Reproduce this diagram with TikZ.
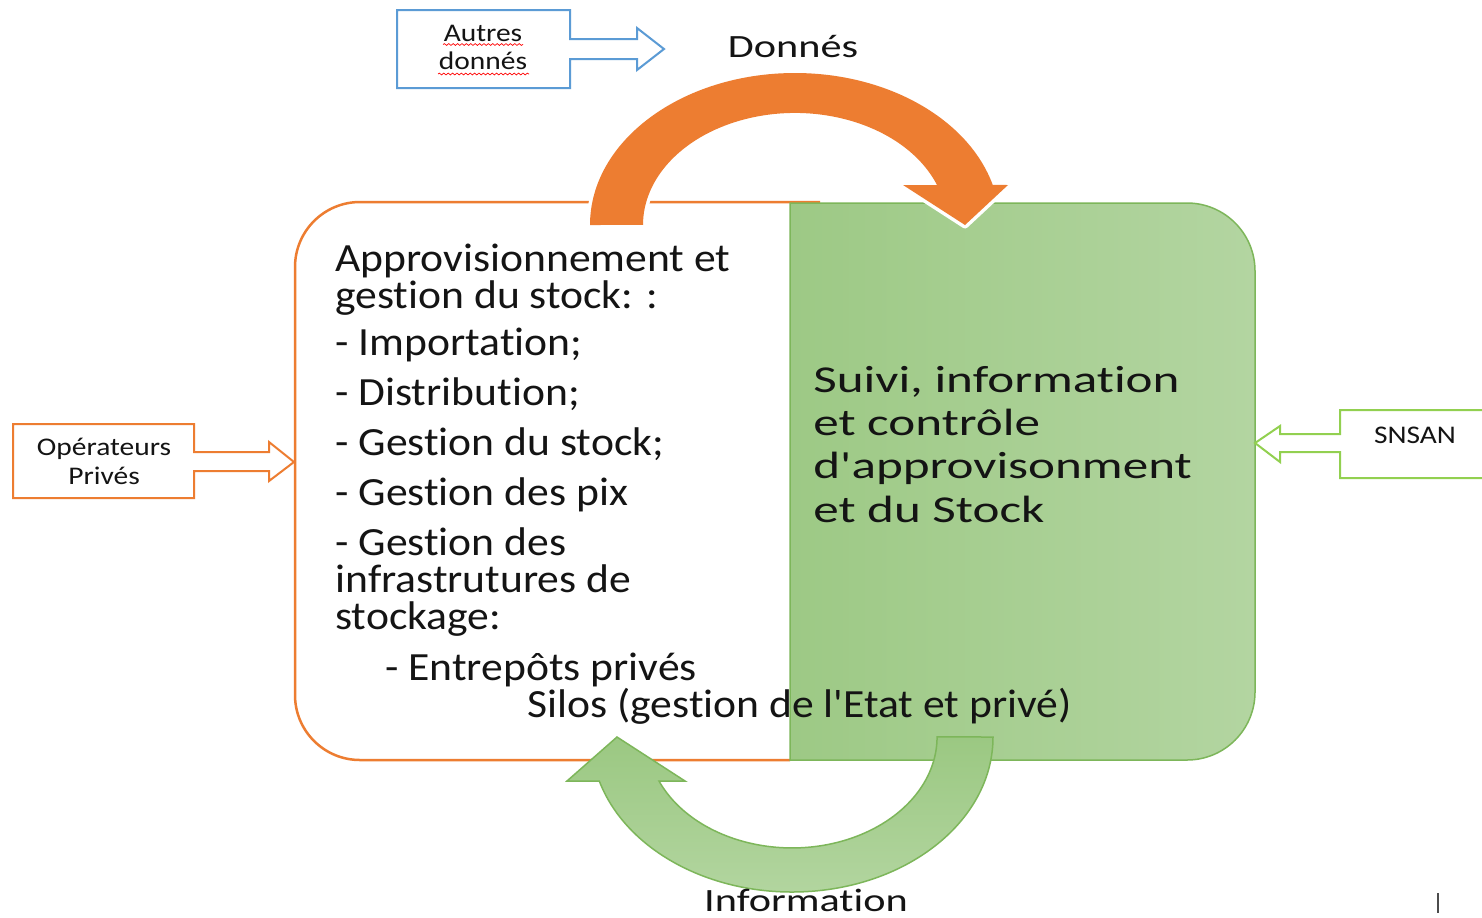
\documentclass[tikz,border=0pt]{standalone}
\usepackage{fontspec}
\setmainfont{Carlito}
\newfontfamily\fleft{Carlito}[FakeStretch=1.09,Ligatures={ResetAll,NoCommon}]
\newfontfamily\fgreen{Carlito}[FakeStretch=1.345,Ligatures={ResetAll,NoCommon}]
\newfontfamily\flab{Carlito}[FakeStretch=1.3,Ligatures={ResetAll,NoCommon}]
\newfontfamily\fsmall{Carlito}[FakeStretch=1.16,Ligatures={ResetAll,NoCommon}]
\usetikzlibrary{decorations.pathmorphing}
\definecolor{orng}{HTML}{ED7D31}
\definecolor{blu}{HTML}{5B9BD5}
\definecolor{grnL}{HTML}{9DC985}
\definecolor{grnR}{HTML}{B3D5A1}
\definecolor{grnE}{HTML}{7DB65A}
\definecolor{grnT}{HTML}{9BC882}
\definecolor{grnB}{HTML}{B2D59F}
\definecolor{limeg}{HTML}{92D050}
\definecolor{txt}{HTML}{141414}
\begin{document}
\begin{tikzpicture}[x=0.5pt,y=-0.5pt,
  lt/.style={anchor=base west,inner sep=0pt,text=txt,font={\fleft\fontsize{20pt}{24pt}\selectfont}},
  gt/.style={anchor=base west,inner sep=0pt,text=txt,font={\fgreen\fontsize{19pt}{23pt}\selectfont}},
  lab/.style={anchor=base,inner sep=0pt,text=txt,font={\flab\fontsize{16.25pt}{20pt}\selectfont}},
  sm/.style={anchor=base,inner sep=0pt,text=txt,font={\fsmall\fontsize{12.7pt}{15pt}\selectfont}},
  squig/.style={draw=red,line width=0.35pt,decorate,decoration={snake,amplitude=0.45pt,segment length=2.2pt}},
  callout/.style={fill=white,line width=1pt,line join=miter}
]
\useasboundingbox (0,0) rectangle (1482,917);
\clip (0,0) rectangle (1482,917);
\fill[white] (0,0) rectangle (1482,917);

% left orange box (open on the right, under the green box)
\draw[orng,line width=1.25pt] (820,202) -- (360,202) arc[start angle=270,end angle=180,radius=65]
  -- (295,695) arc[start angle=180,end angle=90,radius=65] -- (790,760);

% green box
\path[left color=grnL,right color=grnR,draw=grnE,line width=0.75pt]
  (790,203) -- (1187,203) arc[start angle=270,end angle=360,radius=68]
  -- (1255,692) arc[start angle=0,end angle=90,radius=68] -- (790,760) -- cycle;

% orange arc arrow (Donnés)
\fill[orng,preaction={draw=white,line width=3.5pt,line join=round}]
  (590,225) arc[start angle=180,end angle=344.7,x radius=205,y radius=152]
  -- (1008,185) -- (965,225) -- (903,185) -- (937,185)
  arc[start angle=339.1,end angle=180,x radius=152,y radius=112] -- cycle;

% green arc arrow (Information)
\path[top color=grnT,bottom color=grnB,draw=grnE,line width=0.75pt]
  (993,737) arc[start angle=0,end angle=163.5,x radius=201,y radius=155]
  -- (567,781) -- (617,737) -- (685,781) -- (659,781)
  arc[start angle=156.6,end angle=0,x radius=145,y radius=111] -- cycle;

% callouts
\draw[callout,draw=blu] (397,10) -- (570,10) -- (570,39) -- (637,39) -- (637,28) -- (664,49)
  -- (637,70) -- (637,59) -- (570,59) -- (570,88) -- (397,88) -- cycle;
\draw[callout,draw=orng] (13,424) -- (194,424) -- (194,452) -- (269,452) -- (269,442) -- (294,462)
  -- (269,481) -- (269,471) -- (194,471) -- (194,498) -- (13,498) -- cycle;
\draw[callout,draw=limeg] (1500,410) -- (1340,410) -- (1340,434) -- (1280,434) -- (1280,426) -- (1255,443)
  -- (1280,462) -- (1280,452) -- (1340,452) -- (1340,478) -- (1500,478);

% small texts
\node[sm] (autres) at (483,41) {Autres};
\node[sm] (donnes2) at (483,69) {donnés};
\draw[squig] (443,44.5) -- (523,44.5);
\draw[squig] (438,74) -- (529,74);
\node[sm] (oper) at (104,455) {Opérateurs};
\node[sm] (prives) at (104,484) {Privés};
\node[sm] (snsan) at (1415,443) {SNSAN};

% labels
\node[lab] (donnes) at (793,57) {Donnés};
\node[lab] (info) at (806,911) {Information};

% left text
\node[lt] (l1) at (335,271) {Approvisionnement et};
\node[lt] (l2) at (335,308) {gestion du stock: :};
\node[lt] (l3) at (335,355) {- Importation;};
\node[lt] (l4) at (335,405) {- Distribution;};
\node[lt] (l5) at (335,455) {- Gestion du stock;};
\node[lt] (l6) at (335,505) {- Gestion des pix};
\node[lt] (l7) at (335,555) {- Gestion des};
\node[lt] (l8) at (335,592) {infrastrutures de};
\node[lt] (l9) at (335,629) {stockage:};
\node[lt] (l10) at (385,680) {- Entrepôts privés};
\node[lt] (l11) at (527,717) {Silos (gestion de l'Etat et privé)};

% green text
\node[gt] (g1) at (813,392) {Suivi, information};
\node[gt] (g2) at (813,435) {et contrôle};
\node[gt] (g3) at (813,478) {d'approvisonment};
\node[gt] (g4) at (813,522) {et du Stock};

% cursor mark
\draw[gray!60!black,line width=0.8pt] (1438,893) -- (1438,913);
\end{tikzpicture}
\end{document}
